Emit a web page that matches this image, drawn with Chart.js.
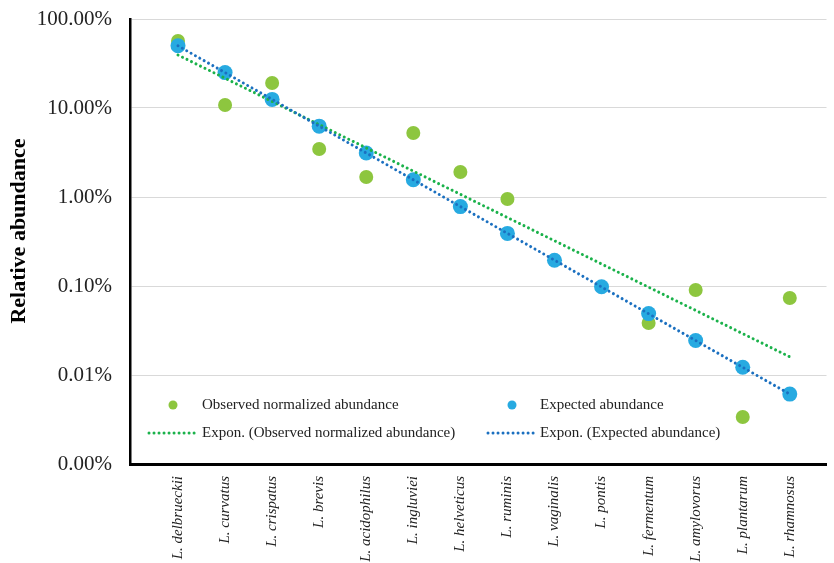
<!DOCTYPE html>
<html>
<head>
<meta charset="utf-8">
<script src="https://cdn.jsdelivr.net/npm/chart.js@4/dist/chart.umd.min.js"></script>
<style>
  html, body { margin: 0; padding: 0; background: #fff; }
  #wrap { position: relative; width: 834px; height: 563px; }
</style>
</head>
<body>
<div id="wrap"><canvas id="grafico"></canvas></div>
<script>
const especies = ['L. delbrueckii', 'L. curvatus', 'L. crispatus', 'L. brevis', 'L. acidophilus',
    'L. ingluviei', 'L. helveticus', 'L. ruminis', 'L. vaginalis', 'L. pontis',
    'L. fermentum', 'L. amylovorus', 'L. plantarum', 'L. rhamnosus'];

// valores em %
const observado = [56.6, 10.8, 19.1, 3.46, 1.68, 5.24, 1.91, 0.95, null, null,
    0.0384, 0.0902, 0.00337, 0.0733];
const esperado = [50, 25, 12.5, 6.25, 3.125, 1.5625, 0.78, 0.39, 0.195, 0.098,
    0.049, 0.0244, 0.0122, 0.0061];

// extremos das linhas de tendencia
const tendObsInicio = 39.4;
const tendObsFim = 0.0160;
const tendEspInicio = 50;
const tendEspFim = 0.0061;

const yTicks = [0.001, 0.01, 0.1, 1, 10, 100];
const tituloY = 'Relative abundance';

const corVerde = '#8dc63f';
const corAzul = '#27aae1';
const corTendVerde = '#1bb24b';
const corTendAzul = '#1b70c0';
const fonteSerif = '"Liberation Serif", "Times New Roman", serif';

const pontos = arr => arr.map((v, i) => (v === null ? null : { x: i, y: v })).filter(p => p);

const legendaPlugin = {
    id: 'legendaInterna',
    afterDraw(chart) {
        const ctx = chart.ctx;
        ctx.save();

        // titulo do eixo y
        ctx.save();
        ctx.translate(19, 231);
        ctx.rotate(-Math.PI / 2);
        ctx.font = `bold 22px ${fonteSerif}`;
        ctx.fillStyle = '#000';
        ctx.textAlign = 'center';
        ctx.textBaseline = 'middle';
        ctx.fillText(tituloY, 0, 0);
        ctx.restore();

        ctx.font = `15px ${fonteSerif}`;
        ctx.textBaseline = 'middle';

        const itens = [
            { tipo: 'ponto', cor: corVerde, x: 173, y: 405, tx: 202, texto: 'Observed normalized abundance' },
            { tipo: 'ponto', cor: corAzul, x: 512, y: 405, tx: 540, texto: 'Expected abundance' },
            { tipo: 'linha', cor: corTendVerde, x: 149, x2: 199, y: 433, tx: 202, texto: 'Expon. (Observed normalized abundance)' },
            { tipo: 'linha', cor: corTendAzul, x: 488, x2: 537, y: 433, tx: 540, texto: 'Expon. (Expected abundance)' }
        ];

        itens.forEach(item => {
            if (item.tipo === 'ponto') {
                ctx.beginPath();
                ctx.fillStyle = item.cor;
                ctx.arc(item.x, item.y, 4.5, 0, Math.PI * 2);
                ctx.fill();
            } else {
                ctx.beginPath();
                ctx.strokeStyle = item.cor;
                ctx.lineWidth = 3;
                ctx.lineCap = 'round';
                ctx.setLineDash([0.01, 5]);
                ctx.moveTo(item.x, item.y);
                ctx.lineTo(item.x2, item.y);
                ctx.stroke();
                ctx.setLineDash([]);
            }
            ctx.fillStyle = '#222';
            ctx.fillText(item.texto, item.tx, item.y);
        });
        ctx.restore();
    }
};

new Chart(document.getElementById('grafico').getContext('2d'), {
    type: 'scatter',
    data: {
        datasets: [
            {
                label: 'Expon. (Expected abundance)',
                type: 'line',
                data: [{ x: 0, y: tendEspInicio }, { x: 13, y: tendEspFim }],
                borderColor: corTendAzul,
                borderWidth: 3,
                borderCapStyle: 'round',
                borderDash: [0.01, 5],
                pointRadius: 0,
                fill: false,
                order: 0
            },
            {
                label: 'Expon. (Observed normalized abundance)',
                type: 'line',
                data: [{ x: 0, y: tendObsInicio }, { x: 13, y: tendObsFim }],
                borderColor: corTendVerde,
                borderWidth: 3,
                borderCapStyle: 'round',
                borderDash: [0.01, 5],
                pointRadius: 0,
                fill: false,
                order: 1
            },
            {
                label: 'Expected abundance',
                data: pontos(esperado),
                backgroundColor: corAzul,
                borderWidth: 0,
                pointRadius: 7.5,
                order: 2
            },
            {
                label: 'Observed normalized abundance',
                data: pontos(observado),
                backgroundColor: corVerde,
                borderWidth: 0,
                pointRadius: 7,
                order: 3
            }
        ]
    },
    options: {
        responsive: true,
        maintainAspectRatio: false,
        animation: false,
        layout: { padding: { top: 19, right: 0, left: 0, bottom: 0 } },
        plugins: {
            legend: { display: false },
            tooltip: { enabled: false }
        },
        scales: {
            x: {
                type: 'linear',
                min: -1.02,
                max: 13.78,
                grid: { display: false, drawTicks: false },
                border: { color: '#000', width: 3 },
                afterBuildTicks(scale) {
                    scale.ticks = especies.map((_, i) => ({ value: i }));
                },
                afterFit(scale) {
                    scale.height = 99;
                    scale.paddingLeft = 0;
                    scale.paddingRight = 0;
                    scale.paddingTop = 0;
                    scale.paddingBottom = 0;
                },
                ticks: {
                    autoSkip: false,
                    minRotation: 90,
                    maxRotation: 90,
                    padding: 12,
                    color: '#222',
                    font: { family: fonteSerif, size: 15, style: 'italic' },
                    callback: value => especies[value] ?? ''
                }
            },
            y: {
                type: 'logarithmic',
                min: 0.001,
                max: 100,
                grid: { color: '#d9d9d9', lineWidth: 1, drawTicks: false },
                border: { color: '#000', width: 2.5 },
                afterBuildTicks(scale) {
                    scale.ticks = yTicks.map(v => ({ value: v }));
                },
                afterFit(scale) {
                    scale.width = 130;
                    scale.paddingLeft = 0;
                    scale.paddingRight = 0;
                    scale.paddingTop = 0;
                    scale.paddingBottom = 0;
                },
                ticks: {
                    padding: 18,
                    color: '#222',
                    font: { family: fonteSerif, size: 21 },
                    callback: value => `${Number(value).toFixed(2)}%`
                }
            }
        }
    },
    plugins: [legendaPlugin]
});
</script>
</body>
</html>
